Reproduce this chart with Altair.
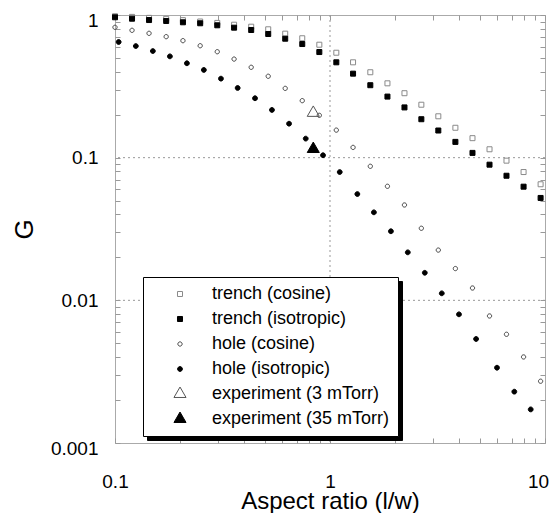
import altair as alt
import pandas as pd

# ---- data ----
series_names = ["trench (cosine)", "trench (isotropic)", "hole (cosine)",
                "hole (isotropic)", "experiment (3 mTorr)", "experiment (35 mTorr)"]

x_common = [0.1, 0.12, 0.144, 0.173, 0.207, 0.249, 0.299, 0.358, 0.43, 0.516,
            0.619, 0.743, 0.892, 1.07, 1.28, 1.54, 1.85, 2.22, 2.66, 3.19,
            3.83, 4.6, 5.52, 6.62, 7.95, 9.54]
x_hole_iso = [0.104, 0.125, 0.150, 0.180, 0.216, 0.259, 0.311, 0.372, 0.448, 0.537,
              0.645, 0.771, 0.928, 1.11, 1.34, 1.60, 1.92, 2.30, 2.76, 3.31,
              3.98, 4.78, 5.98, 7.20, 8.58]

trench_cos = [0.98, 0.97, 0.955, 0.94, 0.92, 0.90, 0.88, 0.855, 0.828, 0.794,
              0.740, 0.687, 0.619, 0.544, 0.466, 0.397, 0.332, 0.283, 0.235, 0.195,
              0.162, 0.137, 0.1145, 0.0953, 0.0793, 0.0651]
trench_iso = [0.964, 0.942, 0.922, 0.908, 0.889, 0.875, 0.847, 0.815, 0.785, 0.736,
              0.682, 0.626, 0.550, 0.466, 0.388, 0.322, 0.268, 0.225, 0.186, 0.155,
              0.129, 0.108, 0.0893, 0.0747, 0.0626, 0.0522]
hole_cos = [0.820, 0.781, 0.744, 0.705, 0.661, 0.609, 0.553, 0.491, 0.430, 0.372,
            0.306, 0.251, 0.198, 0.156, 0.118, 0.0870, 0.0630, 0.0466, 0.0320, 0.0225,
            0.0167, 0.0122, 0.00777, 0.00578, 0.00401, 0.00271]
hole_iso = [0.647, 0.606, 0.559, 0.513, 0.459, 0.412, 0.358, 0.308, 0.261, 0.216,
            0.173, 0.136, 0.104, 0.0793, 0.0556, 0.0414, 0.0305, 0.0217, 0.0156, 0.0112,
            0.00798, 0.00536, 0.00337, 0.00229, 0.00172]
exp_x = [0.836, 0.836]
exp_y = [0.206, 0.115]

x_ticks = [0.1, 0.2, 0.3, 0.4, 0.5, 0.6, 0.7, 0.8, 0.9,
           1, 2, 3, 4, 5, 6, 7, 8, 9, 10]
y_ticks = [0.001, 0.002, 0.003, 0.004, 0.005, 0.006, 0.007, 0.008, 0.009,
           0.01, 0.02, 0.03, 0.04, 0.05, 0.06, 0.07, 0.08, 0.09,
           0.1, 0.2, 0.3, 0.4, 0.5, 0.6, 0.7, 0.8, 0.9, 1]
grid_x = [1]
grid_y = [0.1, 0.01]

# ---- styles: symbol outlines as unit paths (scaled by sqrt(size)/2) ----
SQ = "M-0.385,-0.385H0.385V0.385H-0.385Z"
CIRC_OPEN = "M0.33,0A0.33,0.33,0,1,1,-0.33,0A0.33,0.33,0,1,1,0.33,0Z"
CIRC_FILL = "M0.37,0A0.37,0.37,0,1,1,-0.37,0A0.37,0.37,0,1,1,0.37,0Z"
TRI = "M0,-1.07L0.93,0.535L-0.93,0.535Z"
shapes = [SQ, SQ, CIRC_OPEN, CIRC_FILL, TRI, TRI]
fills = ["transparent", "black", "transparent", "black", "transparent", "black"]
strokes = ["#8a8a8a", "black", "#444444", "black", "#555555", "black"]
SYMBOL_SIZE = 169

rows = []
for xs, ys, name in [(x_common, trench_cos, series_names[0]),
                     (x_common, trench_iso, series_names[1]),
                     (x_common, hole_cos, series_names[2]),
                     (x_hole_iso, hole_iso, series_names[3]),
                     (exp_x[:1], exp_y[:1], series_names[4]),
                     (exp_x[1:], exp_y[1:], series_names[5])]:
    for xv, yv in zip(xs, ys):
        rows.append({"x": xv, "y": yv, "series": name, "skey": "S" + name})
df = pd.DataFrame(rows)
shadow_names = ["S" + n for n in series_names]

FONT = "Liberation Sans"
xscale = alt.Scale(type="log", domain=[0.1, 10], nice=False)
yscale = alt.Scale(type="log", domain=[0.001, 1], nice=False)
TICK = "#999999"
label_expr = "indexof(['0.001','0.01','0.1','1','10'], datum.label) >= 0 ? datum.label : ''"

x_axis = alt.Axis(orient="bottom", values=x_ticks, format="~g", labelExpr=label_expr,
                  domain=False, grid=False, tickSize=5, tickColor=TICK, offset=-5,
                  labelPadding=29, labelFont=FONT, labelFontSize=19, labelColor="black",
                  labelFlush=False, labelOverlap=False,
                  labelOffset={"condition": {"test": "datum.value == 10", "value": -7},
                               "value": 0},
                  title="Aspect ratio (l/w)", titleFont=FONT, titleFontSize=24,
                  titleFontWeight="normal", titleColor="black",
                  titleX=215, titleY=70, titleBaseline="alphabetic", titleAlign="center")
y_axis = alt.Axis(orient="left", values=y_ticks, format="~g", labelExpr=label_expr,
                  domain=False, grid=False, tickSize=5, tickColor=TICK, offset=-5,
                  labelPadding=17, labelFont=FONT, labelFontSize=19, labelColor="black",
                  labelFlush=False, labelOverlap=False,
                  labelOffset={"condition": {"test": "datum.value == 1 || datum.value == 0.001",
                                             "value": 5}, "value": 0},
                  title="G", titleFont=FONT, titleFontSize=26, titleFontWeight="normal",
                  titleColor="black", titleX=-88, titleY=214, titleAngle=-90,
                  titleBaseline="alphabetic", titleAlign="center")

leg_common = dict(title=None, orient="none", padding=8, rowPadding=7,
                  labelFont=FONT, labelFontSize=18, labelLimit=0, symbolSize=SYMBOL_SIZE,
                  labelOffset=23, symbolOffset=20, symbolStrokeWidth=1, labelColor="black")
legend = alt.Legend(legendX=28, legendY=262, fillColor="white", strokeColor="black",
                    zindex=2, labelExpr="datum.label + ' '", **leg_common)
shadow_legend = alt.Legend(legendX=32, legendY=266, fillColor="black", strokeColor="black",
                           zindex=1, labelExpr="slice(datum.label, 1) + ' '",
                           symbolType="square", symbolFillColor="black",
                           symbolStrokeColor="black", **leg_common)

grid_v = alt.Chart(pd.DataFrame({"gx": grid_x})).mark_rule(
    color="#999999", strokeDash=[2, 3], strokeWidth=1
).encode(x=alt.X("gx:Q", scale=xscale, axis=None))
grid_h = alt.Chart(pd.DataFrame({"gy": grid_y})).mark_rule(
    color="#999999", strokeDash=[2, 3], strokeWidth=1
).encode(y=alt.Y("gy:Q", scale=yscale, axis=None))

mirror = alt.Chart(df).mark_point(opacity=0).encode(
    x=alt.X("x:Q", scale=xscale,
            axis=alt.Axis(orient="top", values=x_ticks, labels=False, title=None,
                          domain=False, grid=False, tickSize=5, tickColor=TICK, offset=-5)),
    y=alt.Y("y:Q", scale=yscale,
            axis=alt.Axis(orient="right", values=y_ticks, labels=False, title=None,
                          domain=False, grid=False, tickSize=5, tickColor=TICK, offset=-5)),
)

# invisible copy whose all-black legend forms the drop shadow of the legend box
shadow = alt.Chart(df).mark_point(filled=True, opacity=0, size=SYMBOL_SIZE).encode(
    x=alt.X("x:Q", scale=xscale, axis=None),
    y=alt.Y("y:Q", scale=yscale, axis=None),
    strokeDash=alt.StrokeDash("skey:N", scale=alt.Scale(domain=shadow_names),
                              legend=shadow_legend),
)

points = alt.Chart(df).mark_point(filled=True, opacity=1, strokeWidth=1,
                                  size=SYMBOL_SIZE).encode(
    x=alt.X("x:Q", scale=xscale, axis=x_axis),
    y=alt.Y("y:Q", scale=yscale, axis=y_axis),
    shape=alt.Shape("series:N", scale=alt.Scale(domain=series_names, range=shapes), legend=legend),
    fill=alt.Fill("series:N", scale=alt.Scale(domain=series_names, range=fills), legend=legend),
    stroke=alt.Stroke("series:N", scale=alt.Scale(domain=series_names, range=strokes), legend=legend),
)

chart = alt.layer(grid_v, grid_h, mirror, shadow, points).resolve_axis(
    x="independent", y="independent"
).properties(
    width=430, height=428,
    padding={"left": 107, "top": 7, "right": 5, "bottom": 70},
    autosize=alt.AutoSizeParams(type="none"),
    background="white",
).configure_view(stroke="#aaaaaa", strokeWidth=1)

chart.save("out.html", embed_options={"renderer": "svg", "actions": False})
